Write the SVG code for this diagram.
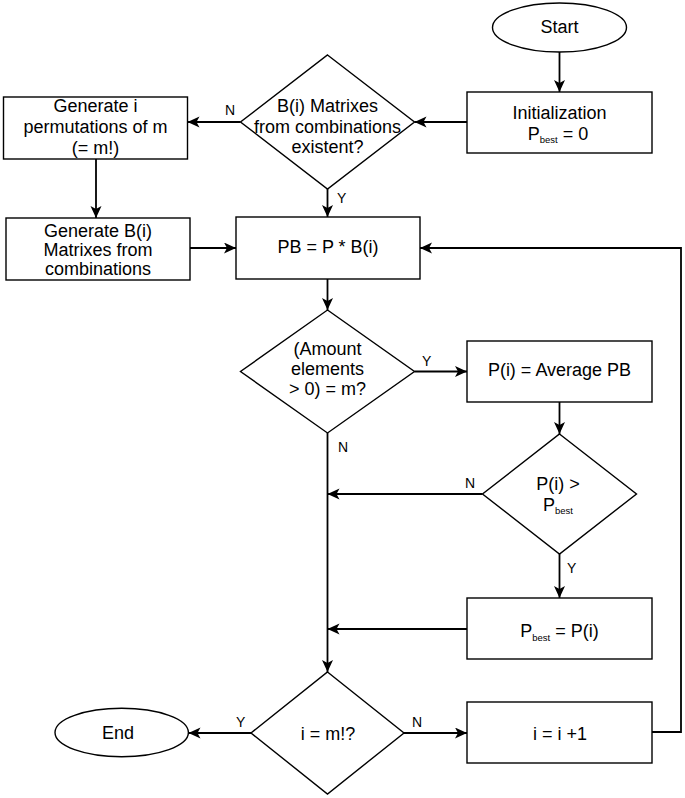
<svg xmlns="http://www.w3.org/2000/svg" width="685" height="798" viewBox="0 0 685 798">
<style>
.s{fill:#fff;stroke:#000;stroke-width:1.4}
.t{font-family:"Liberation Sans",Arial,sans-serif;font-size:18px;fill:#000;text-anchor:middle}
.l{font-family:"Liberation Sans",Arial,sans-serif;font-size:14px;fill:#000}
.c{fill:none;stroke:#000;stroke-width:1.8}
.sub{font-size:9.5px}
</style>
<defs>
<marker id="a" markerUnits="userSpaceOnUse" markerWidth="13" markerHeight="12" refX="12" refY="5.5" orient="auto">
<path d="M0,0 L12,5.5 L0,11 L3,5.5 z" fill="#000"/>
</marker>
</defs>
<rect width="685" height="798" fill="#fff"/>
<g id="connectors">
<path class="c" marker-end="url(#a)" d="M559.5,52 V92"/>
<path class="c" marker-end="url(#a)" d="M467,122 H414.5"/>
<path class="c" marker-end="url(#a)" d="M240.5,122 H187.5"/>
<path class="c" marker-end="url(#a)" d="M96,159 V218"/>
<path class="c" marker-end="url(#a)" d="M327.5,189 V217"/>
<path class="c" marker-end="url(#a)" d="M190,248 H236"/>
<path class="c" marker-end="url(#a)" d="M327.5,279 V310"/>
<path class="c" marker-end="url(#a)" d="M414.5,371.5 H467"/>
<path class="c" marker-end="url(#a)" d="M559.5,402 V434"/>
<path class="c" marker-end="url(#a)" d="M482.5,494 H327.5"/>
<path class="c" marker-end="url(#a)" d="M559.5,554 V598"/>
<path class="c" marker-end="url(#a)" d="M467,629 H327.5"/>
<path class="c" marker-end="url(#a)" d="M327.5,433 V672"/>
<path class="c" marker-end="url(#a)" d="M251,733 H188.5"/>
<path class="c" marker-end="url(#a)" d="M404,733 H467"/>
<path class="c" marker-end="url(#a)" d="M652,732 H681 V248 H420"/>
<text class="l" x="225" y="115">N</text>
<text class="l" x="337" y="203">Y</text>
<text class="l" x="422" y="366">Y</text>
<text class="l" x="338" y="452">N</text>
<text class="l" x="465" y="488">N</text>
<text class="l" x="567" y="573">Y</text>
<text class="l" x="236" y="727">Y</text>
<text class="l" x="412" y="727">N</text>
</g>
<g id="start">
<ellipse class="s" cx="559.5" cy="27.5" rx="67" ry="24.5"/>
<text class="t" x="559.5" y="32.5">Start</text>
</g>
<g id="init">
<rect class="s" x="467" y="92" width="185" height="61"/>
<text class="t" x="559.5" y="118.5">Initialization</text>
<text class="t" x="558" y="139.5">P<tspan class="sub" dy="3.5">best</tspan><tspan dy="-3.5"> = 0</tspan></text>
</g>
<g id="check-matrixes">
<polygon class="s" points="327.5,55 414.5,122 327.5,189 240.5,122"/>
<text class="t" x="327.5" y="112">B(i) Matrixes</text>
<text class="t" x="327.5" y="133">from combinations</text>
<text class="t" x="327.5" y="153">existent?</text>
</g>
<g id="gen-perm">
<rect class="s" x="3.5" y="97" width="184" height="62"/>
<text class="t" x="95.5" y="112">Generate i</text>
<text class="t" x="95.5" y="133">permutations of m</text>
<text class="t" x="95.5" y="154">(= m!)</text>
</g>
<g id="gen-b">
<rect class="s" x="6" y="218" width="184" height="62"/>
<text class="t" x="98" y="237">Generate B(i)</text>
<text class="t" x="98" y="256">Matrixes from</text>
<text class="t" x="98" y="275">combinations</text>
</g>
<g id="pb">
<rect class="s" x="236" y="217" width="184" height="62"/>
<text class="t" x="328" y="253">PB = P * B(i)</text>
</g>
<g id="check-amount">
<polygon class="s" points="327.5,310 414.5,371.5 327.5,433 240.5,371.5"/>
<text class="t" x="327.5" y="355">(Amount</text>
<text class="t" x="327.5" y="375">elements</text>
<text class="t" x="327.5" y="395">&gt; 0) = m?</text>
</g>
<g id="avg">
<rect class="s" x="467" y="341" width="185" height="61"/>
<text class="t" x="559.5" y="376">P(i) = Average PB</text>
</g>
<g id="check-best">
<polygon class="s" points="559.5,434 636.5,494 559.5,554 482.5,494"/>
<text class="t" x="558" y="490">P(i) &gt;</text>
<text class="t" x="558" y="510.5">P<tspan class="sub" dy="3.5">best</tspan></text>
</g>
<g id="set-best">
<rect class="s" x="467" y="598" width="185" height="61"/>
<text class="t" x="559.5" y="637">P<tspan class="sub" dy="3.5">best</tspan><tspan dy="-3.5"> = P(i)</tspan></text>
</g>
<g id="check-i">
<polygon class="s" points="327.5,672 404,733 327.5,794 251,733"/>
<text class="t" x="328" y="739.5">i = m!?</text>
</g>
<g id="end">
<ellipse class="s" cx="121.7" cy="732.5" rx="66.7" ry="24.2"/>
<text class="t" x="118" y="739">End</text>
</g>
<g id="increment">
<rect class="s" x="467" y="702" width="185" height="61"/>
<text class="t" x="560" y="739.5">i = i +1</text>
</g>
</svg>
